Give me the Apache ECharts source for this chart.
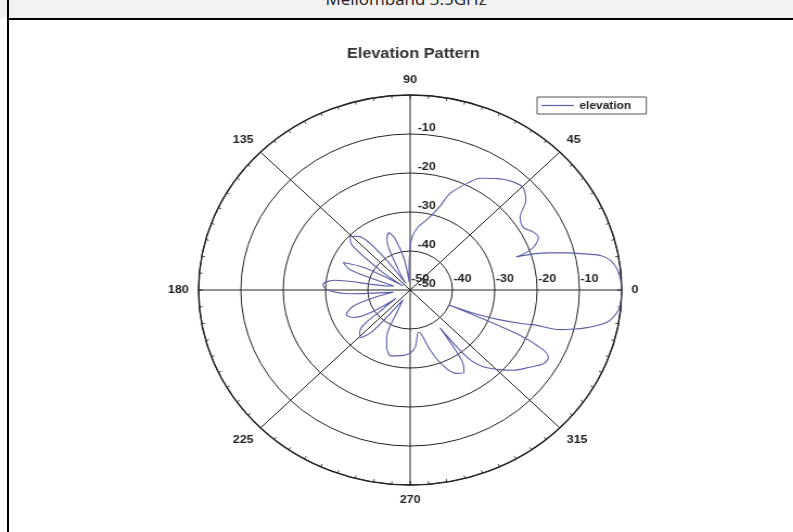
<!DOCTYPE html>
<html>
<head>
<meta charset="utf-8">
<script src="https://cdn.jsdelivr.net/npm/echarts@6/dist/echarts.min.js"></script>
<style>
body { margin: 0; width: 793px; height: 532px; overflow: hidden; background: #fff; position: relative; }
#band { position: absolute; left: 0; top: 0; width: 793px; height: 18px; background: #f2f2f2; overflow: hidden; }
#band span { position: absolute; left: 0; width: 812px; text-align: center; top: -11px; font: 17px 'Open Sans', sans-serif; line-height: 20px; color: #222; }
#hline { position: absolute; left: 8px; top: 18px; width: 785px; height: 2px; background: #000; }
#vline { position: absolute; left: 7px; top: 0; width: 2px; height: 532px; background: #000; }
/* the source picture is stretched sideways, so the chart is too */
#chart { position: absolute; left: 0; top: 0; width: 731px; height: 532px; transform: scaleX(1.085); transform-origin: 0 0; }
</style>
</head>
<body>
<div id="band"><span>Mellomband 3.5GHz</span></div>
<div id="hline"></div>
<div id="vline"></div>
<div id="chart"></div>
<script>
// elevation pattern, angle in degrees (counter-clockwise from 0), gain in dB
var angles = [0, 3, 6, 9, 11, 13, 14.5, 16, 17.5, 18.7,
    19.5, 21, 24, 27, 31, 35.7, 40, 44.5, 48.7, 54,
    60, 63, 69, 72, 76, 80, 84, 88, 90, 93,
    96, 100, 105, 109, 113, 118, 122, 127, 132, 136,
    140, 145, 148, 152, 156, 160, 165, 168, 172, 176,
    180, 184, 188, 192, 197, 203, 208, 213, 217, 222,
    226, 230, 236, 241, 245, 249, 255, 262, 270, 275,
    280, 283, 287, 292, 297, 301, 304, 306, 308, 311,
    316, 320, 325, 329, 332, 334, 336, 337.5, 338.5, 340,
    342, 343, 344, 345.5, 347, 350, 354, 357, 360];
var gains = [0, -0.2, -0.7, -2.0, -4.0, -8.5, -12, -15.5, -19, -23.5,
    -20.5, -18.5, -16.8, -17.3, -18.8, -18, -14.3, -12.6, -13.1, -14.7,
    -16.9, -18.9, -23.4, -27.6, -30.7, -32.5, -34, -36.4, -39, -45,
    -48, -42, -36.5, -34.5, -36, -44, -48, -38, -31.5, -30.3,
    -32, -42, -48, -38, -32.7, -35, -46, -45, -32, -29.3,
    -30.5, -36, -46, -42, -36, -33.6, -35, -46, -42, -34,
    -33, -36, -47, -44, -37, -34.5, -32.5, -33, -33.8, -35.5,
    -39, -38.5, -34, -29, -26, -25.3, -28, -38, -28, -24,
    -20.6, -18, -15.5, -13.3, -13, -15, -22, -40, -33, -28,
    -22, -19.6, -13.1, -10, -7.1, -2.7, -0.5, -0.1, 0];
var angleTicks = [0, 45, 90, 135, 180, 225, 270, 315];
var rings = [-50, -40, -30, -20, -10, 0];

var data = angles.map(function (a, i) { return [gains[i], a]; });

var ink = '#222';
var curve = '#5b5fa8';
var labelFont = { color: ink, fontSize: 11.5, fontWeight: 'bold', fontFamily: 'Arial' };

var chart = echarts.init(document.getElementById('chart'));
chart.setOption({
    animation: false,
    title: {
        text: 'Elevation Pattern',
        left: 376, top: 41, textAlign: 'center',
        textStyle: { fontSize: 15, fontWeight: 'bold', color: '#333', fontFamily: 'Arial' }
    },
    legend: {
        data: ['elevation'],
        left: 495, top: 97,
        borderColor: '#555', borderWidth: 1,
        padding: [3, 14, 3, 4],
        icon: 'rect',
        itemWidth: 30, itemHeight: 1.2,
        itemStyle: { color: curve },
        textStyle: { fontSize: 11, fontWeight: 'bold', color: ink, fontFamily: 'Arial' }
    },
    polar: [
        { center: [378, 290], radius: 195 },
        { center: [378, 290], radius: 195 }
    ],
    angleAxis: [{
        polarIndex: 0, type: 'value', min: 0, max: 360, interval: 45,
        startAngle: 0, clockwise: false,
        axisLine: { lineStyle: { color: ink, width: 1.4 } },
        axisTick: { show: true, inside: true, length: 4, lineStyle: { color: ink } },
        minorTick: { show: true, splitNumber: 9, length: 3, lineStyle: { color: '#444' } },
        axisLabel: Object.assign({ margin: 9, formatter: function (v) {
            return angleTicks.indexOf(v) >= 0 ? String(v) : '';
        } }, labelFont),
        splitLine: { show: true, lineStyle: { color: ink, width: 1 } }
    }, {
        polarIndex: 1, type: 'value', min: 0, max: 360, startAngle: 90,
        show: false,
        axisLine: { show: false }, axisTick: { show: false },
        axisLabel: { show: false }, splitLine: { show: false }
    }],
    radiusAxis: [{
        polarIndex: 0, type: 'value', min: rings[0], max: rings[rings.length - 1], interval: 10,
        axisLine: { show: false }, axisTick: { show: false },
        axisLabel: Object.assign({ margin: 5, align: 'left', verticalAlign: 'bottom',
            padding: [0, 0, 0, 1],
            formatter: function (v) { return v === 0 ? '' : String(v); } }, labelFont),
        splitLine: { show: true, lineStyle: { color: ink, width: 1 } }
    }, {
        polarIndex: 1, type: 'value', min: rings[0], max: rings[rings.length - 1], interval: 10,
        axisLine: { show: false }, axisTick: { show: false },
        axisLabel: Object.assign({ margin: -7, align: 'left', verticalAlign: 'bottom',
            formatter: function (v) { return v === 0 ? '' : String(v); } }, labelFont),
        splitLine: { show: false }
    }],
    series: [{
        name: 'elevation',
        type: 'line',
        coordinateSystem: 'polar',
        polarIndex: 0,
        data: data,
        symbol: 'none',
        smooth: 0.3,
        z: 5,
        lineStyle: { color: curve, width: 1.1 },
        itemStyle: { color: curve }
    }]
});
</script>
</body>
</html>
